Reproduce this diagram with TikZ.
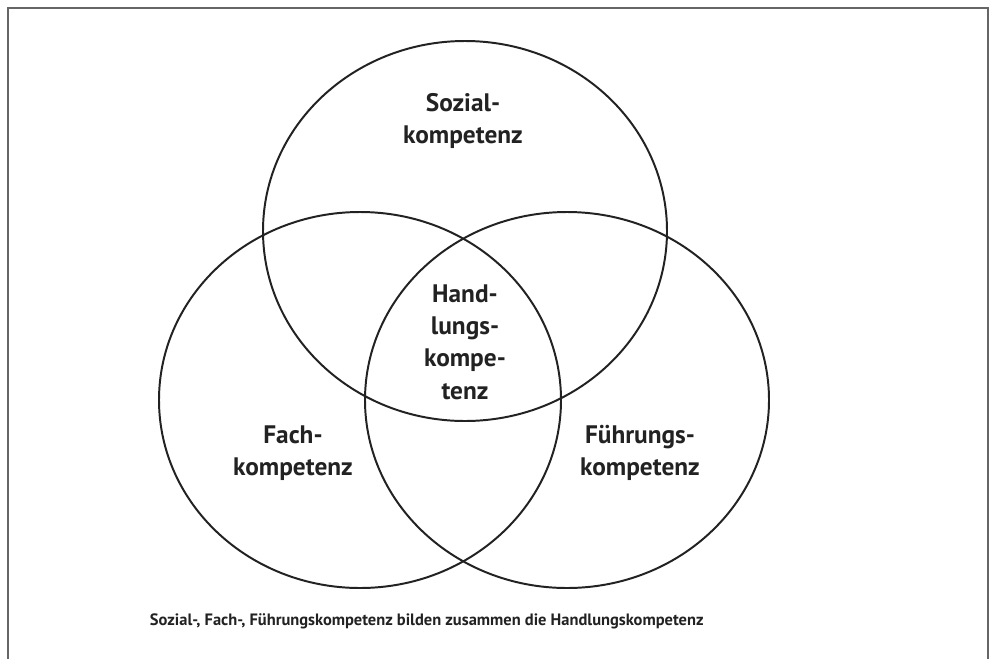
\documentclass[tikz,border=0pt]{standalone}
\usepackage{fontspec}
\setmainfont{PT Sans}
\usepackage{tikz}
\usetikzlibrary{positioning}
\definecolor{frameGray}{HTML}{666666}
\definecolor{ringInk}{HTML}{222222}
\tikzset{
  ring/.style={draw=ringInk, line width=1.4pt},
  area/.style={font=\fontsize{18}{23}\selectfont\bfseries, text=ringInk, align=center},
  caption/.style={font=\fontsize{11.7}{13}\selectfont\bfseries, text=ringInk, anchor=west}
}

\begin{document}
\begin{tikzpicture}[x=0.025cm,y=-0.025cm]
  \clip (0,0) rectangle (990,658);
  \fill[white] (0,0) rectangle (990,658);
  \draw[frameGray, line width=1.5pt] (8,670) -- (8,8) -- (988,8) -- (988,670);
  % the three rings
  \draw[ring] (465,231) ellipse [x radius=202, y radius=190];
  \draw[ring] (360,400) ellipse [x radius=201, y radius=188];
  \draw[ring] (567,400) ellipse [x radius=202, y radius=188];
  % labels
  \node[area] (sozial) at (463,121) {Sozial-\\kompetenz};
  \node[area] (handlung) at (465,342) {Hand-\\lungs-\\kompe-\\tenz};
  \node[area] (fach) at (293,453) {Fach-\\kompetenz};
  \node[area] (fuehrung) at (640,453) {Führungs-\\kompetenz};
  \node[caption] (note) at (145,621) {Sozial-, Fach-, Führungskompetenz bilden zusammen die Handlungskompetenz};
\end{tikzpicture}
\end{document}
